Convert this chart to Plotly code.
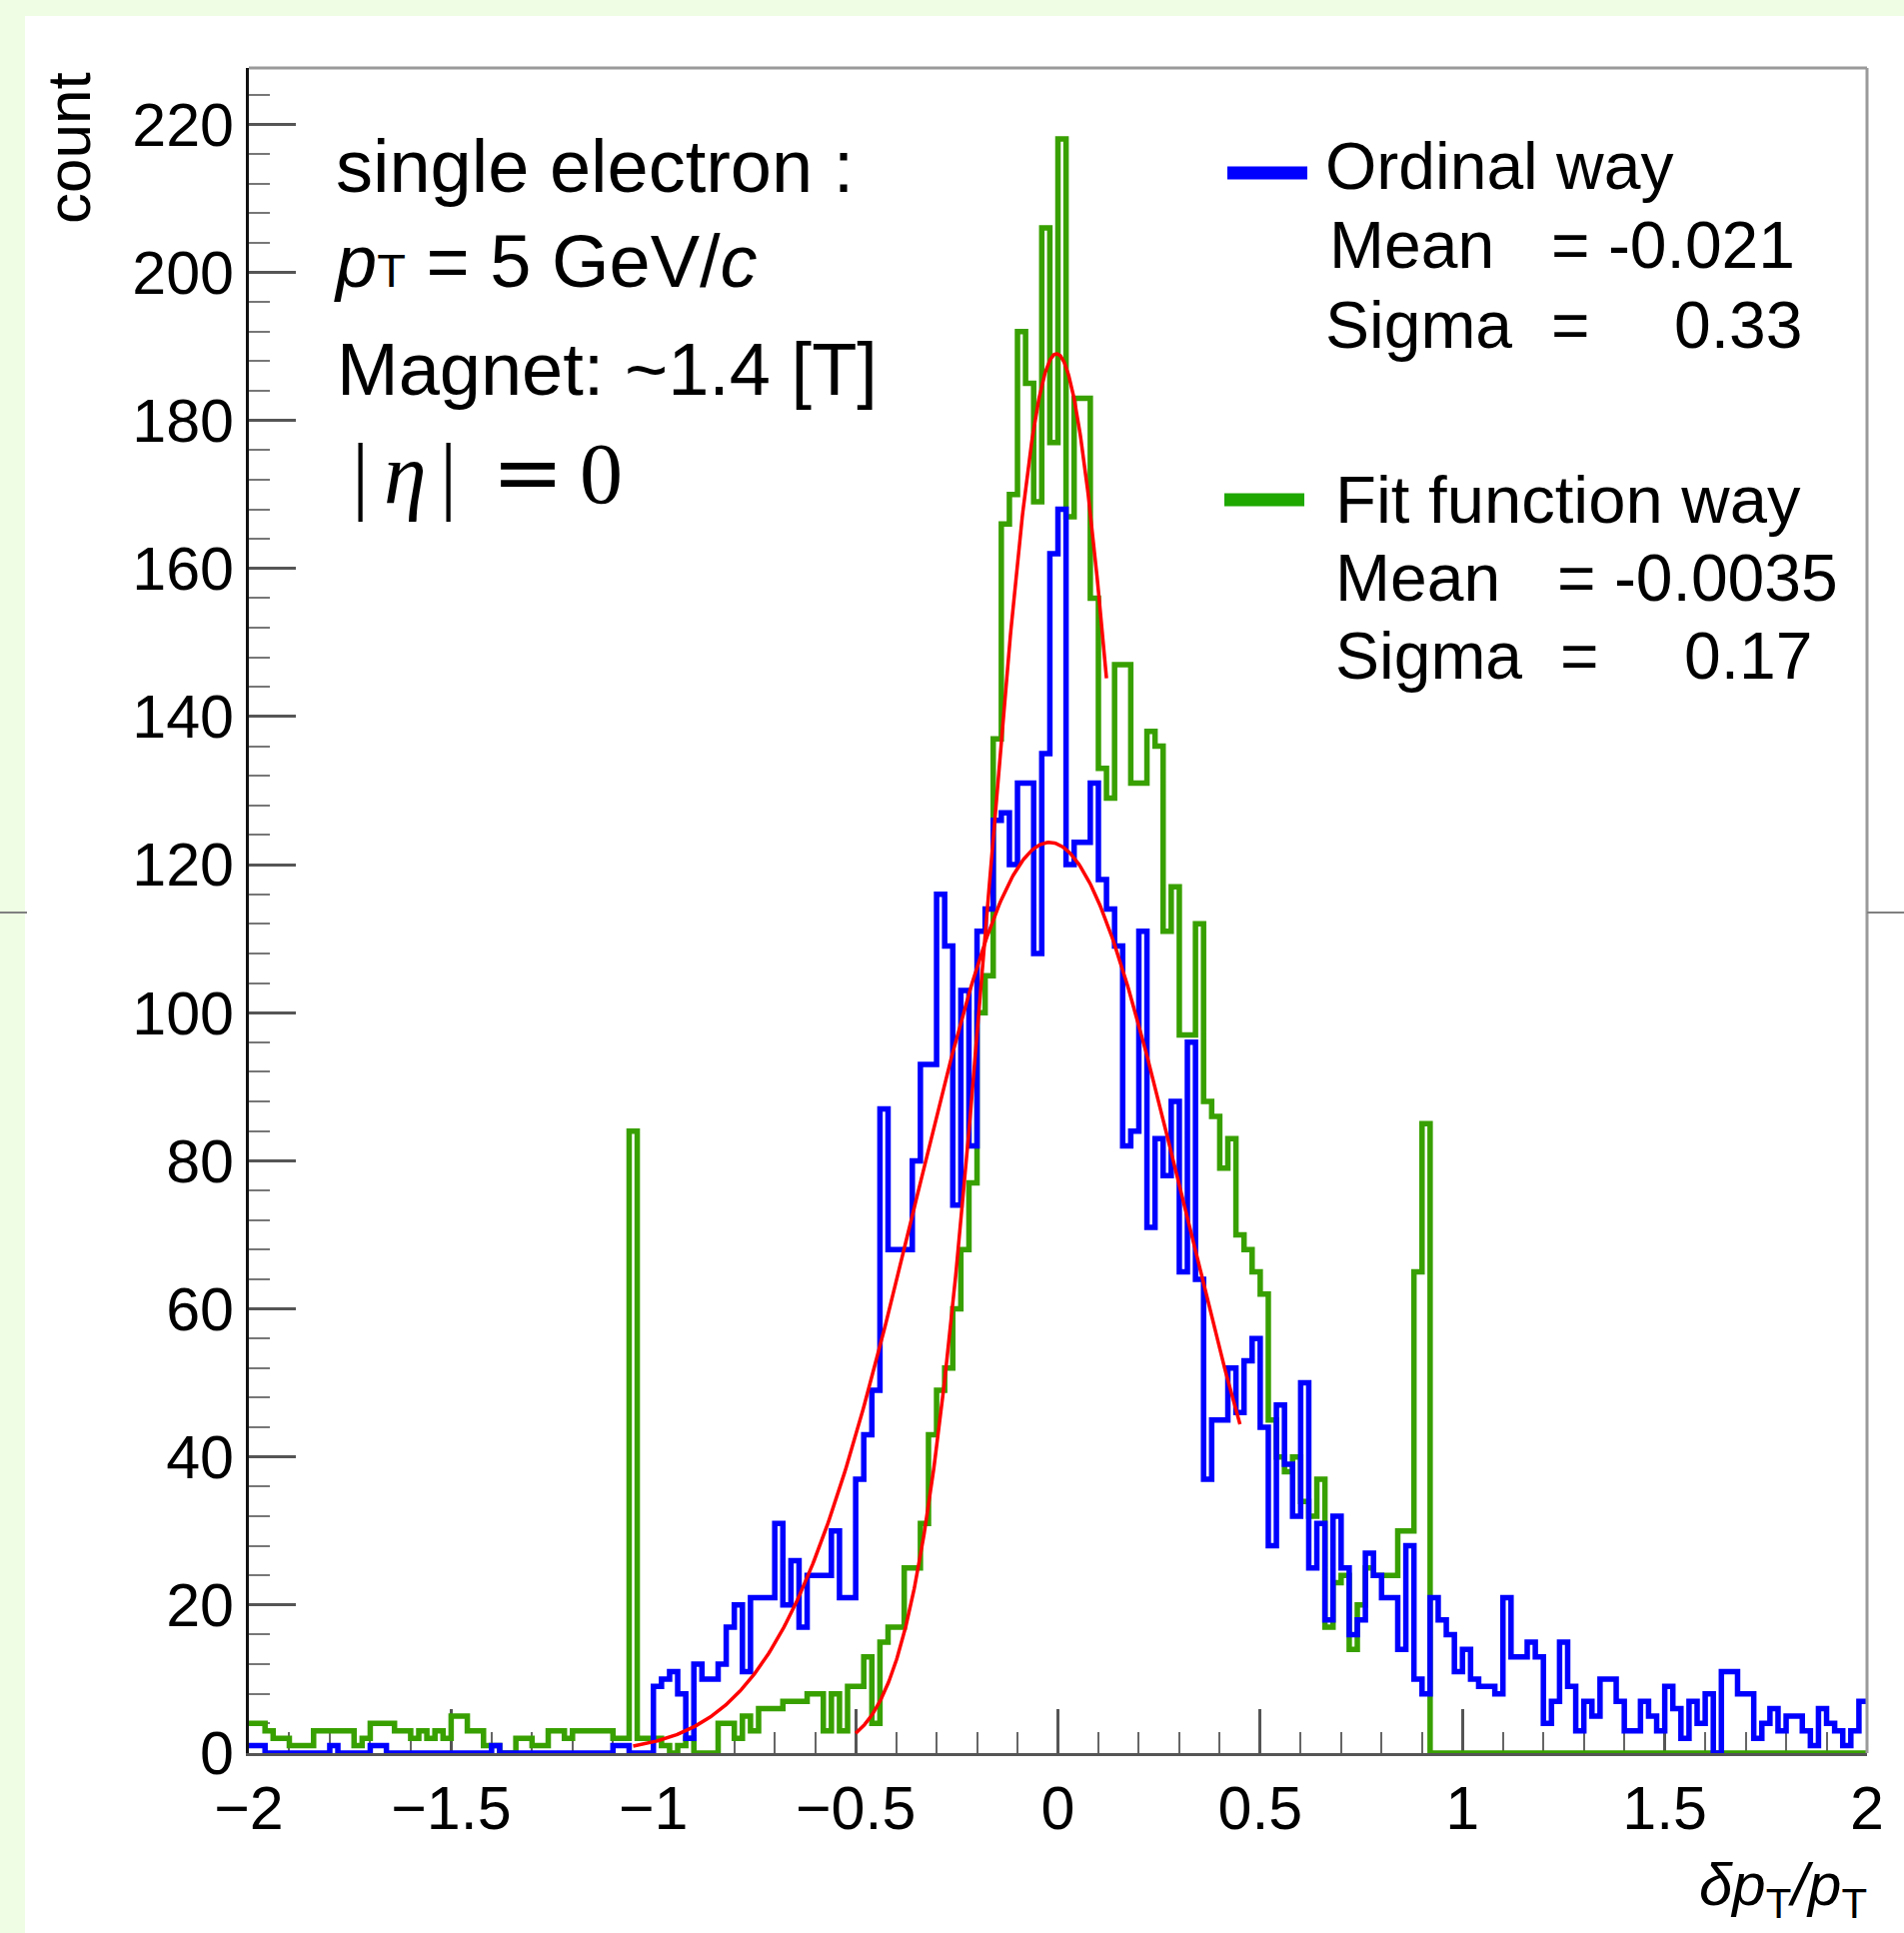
import numpy as np
import plotly.graph_objects as go

# ---------------- data ----------------
X_MIN, X_MAX, N_BINS = -2.0, 2.0, 200

ordinal_way_counts = [
    1, 1, 0, 0, 0, 0, 0, 0, 0, 0,
    1, 0, 0, 0, 0, 1, 1, 0, 0, 0,
    0, 0, 0, 0, 0, 0, 0, 0, 0, 0,
    1, 0, 0, 0, 0, 0, 0, 0, 0, 0,
    0, 0, 0, 0, 0, 1, 1, 0, 0, 0,
    9, 10, 11, 8, 2, 12, 10, 10, 12, 17,
    20, 11, 21, 21, 21, 31, 20, 26, 17, 24,
    24, 24, 30, 21, 21, 37, 43, 49, 87, 68,
    68, 68, 80, 93, 93, 116, 109, 74, 103, 82,
    111, 114, 126, 127, 120, 131, 131, 108, 135, 162,
    168, 120, 123, 123, 131, 118, 114, 109, 82, 84,
    111, 71, 83, 78, 88, 65, 96, 64, 37, 45,
    45, 52, 46, 53, 56, 44, 28, 47, 39, 32,
    50, 25, 31, 18, 32, 25, 16, 18, 27, 24,
    21, 21, 14, 28, 10, 8, 21, 18, 16, 11,
    14, 10, 9, 9, 8, 21, 13, 13, 15, 13,
    4, 7, 15, 9, 3, 7, 5, 10, 10, 7,
    3, 3, 7, 5, 3, 9, 6, 2, 7, 4,
    8, 0, 11, 11, 8, 8, 2, 4, 6, 3,
    5, 5, 3, 1, 6, 4, 3, 1, 3, 7,
]

fit_function_way_counts = [
    4, 4, 3, 2, 2, 1, 1, 1, 3, 3,
    3, 3, 3, 1, 2, 4, 4, 4, 3, 3,
    2, 3, 2, 3, 2, 5, 5, 3, 3, 1,
    1, 0, 0, 2, 2, 1, 1, 3, 3, 2,
    3, 3, 3, 3, 3, 2, 2, 84, 2, 2,
    2, 1, 0, 1, 2, 0, 0, 0, 4, 4,
    2, 5, 3, 6, 6, 6, 7, 7, 7, 8,
    8, 3, 8, 3, 9, 9, 13, 4, 15, 17,
    17, 25, 25, 31, 43, 49, 52, 60, 68, 77,
    100, 105, 137, 166, 170, 192, 185, 169, 206, 177,
    218, 167, 183, 183, 156, 133, 129, 147, 147, 131,
    131, 138, 136, 111, 117, 97, 97, 112, 88, 86,
    79, 83, 70, 68, 65, 62, 45, 40, 38, 40,
    34, 32, 37, 17, 23, 24, 14, 20, 25, 24,
    24, 24, 30, 30, 65, 85, 0, 0, 0, 0,
    0, 0, 0, 0, 0, 0, 0, 0, 0, 0,
    0, 0, 0, 0, 0, 0, 0, 0, 0, 0,
    0, 0, 0, 0, 0, 0, 0, 0, 0, 0,
    0, 0, 0, 0, 0, 0, 0, 0, 0, 0,
    0, 0, 0, 0, 0, 0, 0, 0, 0, 0,
]

# Gaussian fit functions (amplitude, mean, sigma, fit range)
ordinal_fit = {"amp": 123.0, "mean": -0.021, "sigma": 0.33, "lo": -1.05, "hi": 0.45}
fitway_fit = {"amp": 189.0, "mean": -0.0035, "sigma": 0.17, "lo": -0.50, "hi": 0.12}

x_tick_values = [-2, -1.5, -1, -0.5, 0, 0.5, 1, 1.5, 2]
x_tick_labels = ["\u22122", "\u22121.5", "\u22121", "\u22120.5", "0", "0.5", "1", "1.5", "2"]
y_tick_values = [0, 20, 40, 60, 80, 100, 120, 140, 160, 180, 200, 220]
y_tick_labels = [str(v) for v in y_tick_values]
Y_MAX = 227.6

# ---------------- geometry ----------------
W, H = 1905, 1934
L, R, T, B = 249, 1868, 68, 1754


def px(xp):
    return (xp - L) / (R - L)


def py(yp):
    return (B - yp) / (B - T)


BLUE = "#0000ff"
GREEN = "#38a000"
RED = "#ff0000"
SANS = "Liberation Sans, Arial, Helvetica, sans-serif"
SERIF = "Liberation Serif, Times New Roman, serif"

edges = np.linspace(X_MIN, X_MAX, N_BINS + 1)


def step_y(counts):
    return list(counts) + [counts[-1]]


def gauss_curve(p):
    xs = np.linspace(p["lo"], p["hi"], 400)
    ys = p["amp"] * np.exp(-0.5 * ((xs - p["mean"]) / p["sigma"]) ** 2)
    return xs, ys


fig = go.Figure()
fig.add_trace(go.Scatter(x=edges, y=step_y(fit_function_way_counts), mode="lines",
                         line=dict(color=GREEN, width=5.5, shape="hv"),
                         name="Fit function way", showlegend=False))
fig.add_trace(go.Scatter(x=edges, y=step_y(ordinal_way_counts), mode="lines",
                         line=dict(color=BLUE, width=5.5, shape="hv"),
                         name="Ordinal way", showlegend=False))
for p in (ordinal_fit, fitway_fit):
    fx, fy = gauss_curve(p)
    fig.add_trace(go.Scatter(x=fx, y=fy, mode="lines",
                             line=dict(color=RED, width=3.5),
                             showlegend=False))

ann = []


def add_text(text, xp, yp, size, xanchor="left", family=SANS, angle=0):
    ann.append(dict(text=text, x=px(xp), y=py(yp), xref="paper", yref="paper",
                    xanchor=xanchor, yanchor="middle", showarrow=False,
                    textangle=angle, font=dict(family=family, size=size, color="#000000")))


# axis titles
add_text("count", 69, 148, 62, xanchor="center", angle=-90)
add_text("<i>\u03b4p</i><sub>T</sub><i>/p</i><sub>T</sub>", 1870, 1890, 60, xanchor="right")

# left info text
add_text("single electron :", 334, 166, 74)
add_text("<i>p</i><span style='font-size:47px'>T</span> = 5 GeV/<i>c</i>", 332, 261, 74)
add_text("Magnet: ~1.4 [T]", 335, 370, 74)
add_text("|", 360, 474, 86, xanchor="center", family=SERIF)
add_text("<i>\u03b7</i>", 405, 474, 86, xanchor="center", family=SERIF)
add_text("|", 448, 474, 86, xanchor="center", family=SERIF)
add_text("=", 528, 472, 86, xanchor="center", family="DejaVu Serif, serif")
add_text("0", 601, 474, 86, xanchor="center", family=SERIF)

# legend text
add_text("Ordinal way", 1324, 166, 66)
add_text("Mean", 1328, 245, 66)
add_text("= -0.021", 1550, 245, 66)
add_text("Sigma", 1324, 325, 66)
add_text("=", 1550, 325, 66)
add_text("0.33", 1673, 325, 66)
add_text("Fit function way", 1334, 499, 67)
add_text("Mean", 1334, 578, 66)
add_text("= -0.0035", 1556, 578, 66)
add_text("Sigma", 1334, 656, 66)
add_text("=", 1559, 656, 66)
add_text("0.17", 1683, 656, 66)

shapes = [
    # white canvas over light-green page
    dict(type="rect", xref="paper", yref="paper", x0=px(25), x1=px(W + 5), y0=py(16), y1=py(H + 5),
         fillcolor="#ffffff", line=dict(width=0), layer="below"),
    # frame top & right
    dict(type="line", xref="paper", yref="paper", x0=px(L), x1=px(R), y0=py(T), y1=py(T),
         line=dict(color="#9a9a9a", width=3)),
    dict(type="line", xref="paper", yref="paper", x0=px(R), x1=px(R), y0=py(T), y1=py(B),
         line=dict(color="#9a9a9a", width=3)),
    # stray horizontal stubs at page edges
    dict(type="line", xref="paper", yref="paper", x0=px(0), x1=px(27), y0=py(913), y1=py(913),
         line=dict(color="#808080", width=2)),
    dict(type="line", xref="paper", yref="paper", x0=px(R), x1=px(W), y0=py(913), y1=py(913),
         line=dict(color="#808080", width=2)),
    # legend line samples
    dict(type="line", xref="paper", yref="paper", x0=px(1228), x1=px(1308), y0=py(173), y1=py(173),
         line=dict(color=BLUE, width=13)),
    dict(type="line", xref="paper", yref="paper", x0=px(1225), x1=px(1305), y0=py(500), y1=py(500),
         line=dict(color="#1ea800", width=13)),
]

fig.update_layout(
    width=W, height=H,
    margin=dict(l=L, r=W - R, t=T, b=H - B, pad=0),
    paper_bgcolor="#eefde3",
    plot_bgcolor="#ffffff",
    showlegend=False,
    annotations=ann,
    shapes=shapes,
    font=dict(family=SANS, color="#000000"),
)

fig.update_xaxes(
    range=[X_MIN, X_MAX], tickmode="array", tickvals=x_tick_values, ticktext=x_tick_labels,
    ticks="inside", ticklen=44, tickwidth=2.5, tickcolor="#555555",
    minor=dict(ticks="inside", ticklen=21, tickwidth=2, tickcolor="#666666",
               tickmode="linear", tick0=0, dtick=0.1, showgrid=False),
    showline=True, linecolor="#555555", linewidth=3, mirror=False,
    showgrid=False, zeroline=False, layer="below traces",
    tickfont=dict(family=SANS, size=61, color="#000000"), ticklabelstandoff=0,
)
fig.update_yaxes(
    range=[0, Y_MAX], tickmode="array", tickvals=y_tick_values, ticktext=y_tick_labels,
    ticks="inside", ticklen=47, tickwidth=2.5, tickcolor="#555555",
    minor=dict(ticks="inside", ticklen=21, tickwidth=2, tickcolor="#777777",
               tickmode="linear", tick0=0, dtick=4, showgrid=False),
    showline=True, linecolor="#111111", linewidth=2.5, mirror=False,
    showgrid=False, zeroline=False, layer="below traces",
    tickfont=dict(family=SANS, size=61, color="#000000"), ticklabelstandoff=0,
)

fig.write_html("out.html")
